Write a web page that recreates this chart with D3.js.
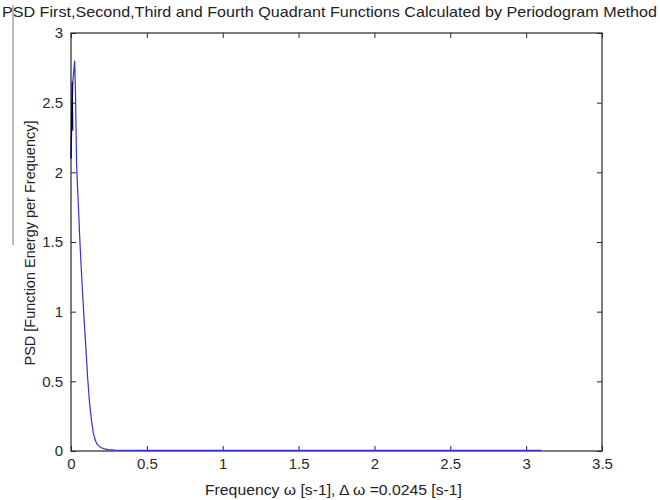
<!DOCTYPE html>
<html>
<head>
<meta charset="utf-8">
<script src="https://cdn.jsdelivr.net/npm/d3@7"></script>
<style>
  body { margin: 0; background: #fff; }
  svg { display: block; font-family: "Liberation Sans", Arial, sans-serif; }
</style>
</head>
<body>
<svg id="chart" width="660" height="500"></svg>
<script>
// PSD curve (omega in s-1, PSD values)
const omega = [0, 0.012, 0.024, 0.03, 0.037, 0.049, 0.061, 0.073, 0.086, 0.098,
               0.11, 0.122, 0.135, 0.147, 0.159, 0.171, 0.184, 0.196, 0.22, 0.245,
               0.27, 0.294, 0.5, 1.0, 1.5, 2.0, 2.5, 3.1];
const psd = [2.1, 2.65, 2.8, 2.55, 2.05, 1.75, 1.45, 1.2, 0.95, 0.74,
             0.52, 0.35, 0.22, 0.13, 0.08, 0.05, 0.035, 0.025, 0.015, 0.01,
             0.008, 0.006, 0.005, 0.005, 0.005, 0.005, 0.005, 0.005];

// darker overlapping quadrant trace near the origin
const omega2 = [0, 0.004, 0.008, 0.012];
const psd2 = [2.1, 2.4, 2.65, 2.3];

const xTicks = [0, 0.5, 1, 1.5, 2, 2.5, 3, 3.5];
const yTicks = [0, 0.5, 1, 1.5, 2, 2.5, 3];

const titleText = "PSD First,Second,Third and Fourth Quadrant Functions Calculated by Periodogram Method";
const xLabel = "Frequency \u03c9 [s-1], \u0394 \u03c9 =0.0245 [s-1]";
const yLabel = "PSD [Function Energy per Frequency]";

const area = { left: 71, right: 602, top: 33, bottom: 451 };

const svg = d3.select("#chart");

const x = d3.scaleLinear().domain([0, 3.5]).range([area.left, area.right]);
const y = d3.scaleLinear().domain([0, 3]).range([area.bottom, area.top]);

// рамка
svg.append("rect")
   .attr("x", area.left).attr("y", area.top)
   .attr("width", area.right - area.left)
   .attr("height", area.bottom - area.top)
   .attr("fill", "none").attr("stroke", "#262626").attr("stroke-width", 1.2);

function styleAxis(g) {
   g.select(".domain").remove();
   g.selectAll("line").attr("stroke", "#262626");
   g.selectAll("text").attr("fill", "#2a2a2a").attr("font-size", 15)
    .attr("font-family", "'Liberation Sans', Arial, sans-serif");
}

svg.append("g")
   .attr("transform", `translate(0,${area.bottom})`)
   .call(d3.axisBottom(x).tickValues(xTicks).tickFormat(d3.format("")).tickSizeInner(-5).tickSizeOuter(0).tickPadding(7))
   .call(styleAxis);

svg.append("g")
   .attr("transform", `translate(0,${area.top})`)
   .call(d3.axisTop(x).tickValues(xTicks).tickFormat("").tickSizeInner(-5).tickSizeOuter(0))
   .call(styleAxis);

svg.append("g")
   .attr("transform", `translate(${area.left},0)`)
   .call(d3.axisLeft(y).tickValues(yTicks).tickFormat(d3.format("")).tickSizeInner(-5).tickSizeOuter(0).tickPadding(8))
   .call(styleAxis);

svg.append("g")
   .attr("transform", `translate(${area.right},0)`)
   .call(d3.axisRight(y).tickValues(yTicks).tickFormat("").tickSizeInner(-5).tickSizeOuter(0))
   .call(styleAxis);

// кривые
const line = d3.line().x(d => x(d[0])).y(d => y(d[1]));

svg.append("path")
   .datum(d3.zip(omega, psd))
   .attr("fill", "none")
   .attr("stroke", "#3333cc")
   .attr("stroke-width", 1.2)
   .attr("d", line);

svg.append("path")
   .datum(d3.zip(omega2, psd2))
   .attr("fill", "none")
   .attr("stroke", "#000050")
   .attr("stroke-width", 1.2)
   .attr("d", line);

// серая линия слева, как на скриншоте
svg.append("line")
   .attr("x1", 13).attr("x2", 13).attr("y1", 5).attr("y2", 245)
   .attr("stroke", "#777").attr("stroke-width", 1);

// подписи
svg.append("text")
   .attr("x", 2).attr("y", 17)
   .attr("font-size", 15).attr("fill", "#222")
   .attr("textLength", 655).attr("lengthAdjust", "spacingAndGlyphs")
   .text(titleText);

svg.append("text")
   .attr("x", 205).attr("y", 495)
   .attr("font-size", 15.5).attr("fill", "#222")
   .attr("textLength", 257).attr("lengthAdjust", "spacingAndGlyphs")
   .text(xLabel);

svg.append("text")
   .attr("transform", "translate(35,243) rotate(-90)")
   .attr("text-anchor", "middle")
   .attr("font-size", 14.5).attr("fill", "#222")
   .text(yLabel);
</script>
</body>
</html>
